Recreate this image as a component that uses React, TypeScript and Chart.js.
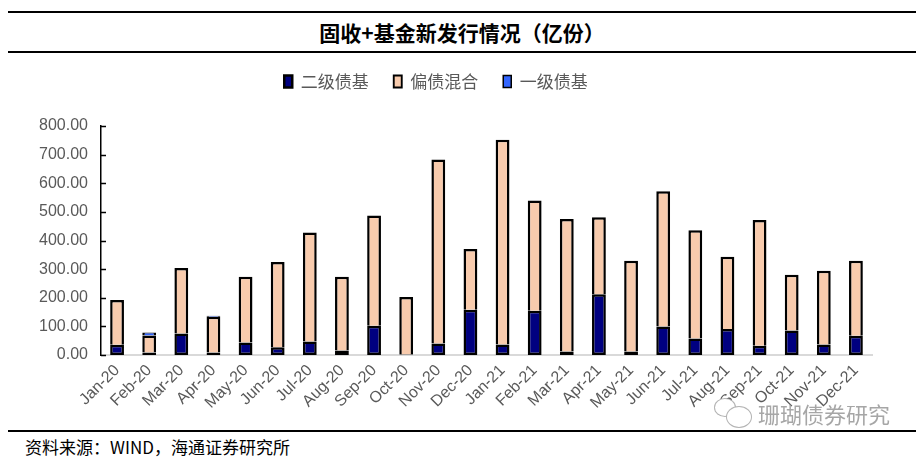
import React, { useEffect, useRef } from "react";
import { Chart, registerables } from "chart.js";

Chart.register(...registerables);

const months = [
  "Jan-20", "Feb-20", "Mar-20", "Apr-20", "May-20", "Jun-20",
  "Jul-20", "Aug-20", "Sep-20", "Oct-20", "Nov-20", "Dec-20",
  "Jan-21", "Feb-21", "Mar-21", "Apr-21", "May-21", "Jun-21",
  "Jul-21", "Aug-21", "Sep-21", "Oct-21", "Nov-21", "Dec-21",
];

// 二级债基
const erjiValues = [
  36, 9, 75, 9, 44, 27, 47, 16, 102, 2, 40, 158,
  37, 155, 12, 212, 12, 100, 58, 91, 32, 86, 37, 67,
];

// 偏债混合
const pianzhaiValues = [
  156, 59, 229, 125, 229, 298, 381, 257, 385, 201, 643, 212,
  715, 385, 463, 269, 317, 472, 378, 252, 440, 194, 257, 262,
];

// 一级债基
const yijiValues = [
  0, 11, 0, 3, 0, 0, 0, 0, 0, 0, 0, 0,
  0, 0, 0, 0, 0, 0, 0, 0, 0, 0, 0, 0,
];

const seriesNames = ["二级债基", "偏债混合", "一级债基"];
const yMin = 0;
const yMax = 800;
const yStep = 100;

const cjk = '"Noto Sans CJK SC", "Noto Sans", sans-serif';
const latin = '"Liberation Sans", Arial, sans-serif';

export default function App() {
  const canvasRef = useRef<HTMLCanvasElement | null>(null);

  useEffect(() => {
    document.body.style.margin = "0";
    const canvas = canvasRef.current;
    if (!canvas) return;

    const inwardTicks = {
      id: "inwardTicks",
      afterDatasetsDraw(chart: any) {
        const y = chart.scales.y;
        const ctx = chart.ctx;
        ctx.save();
        ctx.strokeStyle = "#000";
        ctx.lineWidth = 1.5;
        y.ticks.forEach((t: any) => {
          const py = Math.round(y.getPixelForValue(t.value)) + 0.5;
          ctx.beginPath();
          ctx.moveTo(y.right, py);
          ctx.lineTo(y.right + 5, py);
          ctx.stroke();
        });
        ctx.restore();
      },
    };

    const legendGap = {
      id: "legendGap",
      afterInit(chart: any) {
        const lg = chart.legend;
        if (!lg) return;
        const fit = lg.fit;
        lg.fit = function () {
          fit.call(this);
          this.height += 26;
        };
      },
    };

    const chart = new Chart(canvas, {
      type: "bar",
      data: {
        labels: months,
        datasets: [
          {
            label: seriesNames[0],
            data: erjiValues,
            backgroundColor: "#000080",
            borderColor: "#000000",
            borderWidth: { top: 2.5, left: 2.5, right: 2.5, bottom: 2.5 },
            borderSkipped: false,
            stack: "s",
          },
          {
            label: seriesNames[1],
            data: pianzhaiValues,
            backgroundColor: "#F8CBAD",
            borderColor: "#000000",
            borderWidth: { top: 2.5, left: 2.5, right: 2.5, bottom: 0 },
            borderSkipped: false,
            stack: "s",
          },
          {
            label: seriesNames[2],
            data: yijiValues.map((v) => (v === 0 ? null : v)),
            backgroundColor: "#3366FF",
            borderColor: "#000000",
            borderWidth: { top: 1, left: 2.5, right: 2.5, bottom: 0 },
            borderSkipped: false,
            stack: "s",
          },
        ] as any,
      },
      options: {
        animation: false,
        responsive: false,
        devicePixelRatio: 1,
        layout: { padding: { left: 0, right: 52, top: 0, bottom: 0 } },
        datasets: {
          bar: { barPercentage: 0.43, categoryPercentage: 1 },
        },
        plugins: {
          legend: {
            position: "top",
            labels: {
              boxWidth: 8,
              boxHeight: 12,
              padding: 25,
              color: "#595959",
              font: { family: cjk, size: 17 },
            },
          },
          tooltip: { enabled: false },
        },
        scales: {
          x: {
            stacked: true,
            grid: { display: false, drawTicks: false },
            border: { display: true, color: "#d9d9d9", width: 2 },
            ticks: {
              color: "#595959",
              font: { family: latin, size: 16 },
              minRotation: 45,
              maxRotation: 45,
              autoSkip: false,
              padding: 6,
            },
            afterFit(scale: any) {
              scale.height = 75;
            },
          },
          y: {
            stacked: true,
            min: yMin,
            max: yMax,
            grid: { display: false, drawTicks: false },
            border: { display: true, color: "#000000", width: 1.5 },
            ticks: {
              stepSize: yStep,
              color: "#595959",
              font: { family: latin, size: 16 },
              padding: 13,
              callback: (v: any) => Number(v).toFixed(2),
            },
            afterFit(scale: any) {
              scale.width = 101;
            },
          },
        },
      } as any,
      plugins: [inwardTicks, legendGap],
    });

    return () => chart.destroy();
  }, []);

  return (
    <div
      style={{
        position: "absolute",
        left: 0,
        top: 0,
        width: 924,
        height: 460,
        background: "#fff",
        overflow: "hidden",
      }}
    >
      <div style={{ position: "absolute", left: 8, top: 11, width: 908, height: 2, background: "#000" }} />
      <div
        style={{
          position: "absolute",
          left: 0,
          top: 16,
          width: 924,
          height: 32,
          lineHeight: "32px",
          textAlign: "center",
          fontFamily: cjk,
          fontWeight: 700,
          fontSize: 21,
          color: "#000",
        }}
      >
        固收+基金新发行情况（亿份）
      </div>
      <div style={{ position: "absolute", left: 8, top: 51, width: 908, height: 2, background: "#000" }} />
      <canvas
        ref={canvasRef}
        width={924}
        height={382}
        style={{ position: "absolute", left: 0, top: 48, width: 924, height: 382 }}
      />
      <div
        style={{
          position: "absolute",
          left: 712,
          top: 396,
          width: 200,
          height: 34,
          display: "flex",
          alignItems: "center",
          color: "rgba(150,150,150,0.85)",
          fontFamily: cjk,
          fontSize: 22,
        }}
      >
        <div style={{ position: "relative", width: 42, height: 34, marginRight: 4 }}>
          <div style={{ position: "absolute", left: 2, top: 2, width: 20, height: 17, borderRadius: "50%", border: "1.5px solid rgba(160,160,160,0.8)", background: "#fff" }} />
          <div style={{ position: "absolute", left: 14, top: 10, width: 24, height: 20, borderRadius: "50%", border: "1.5px solid rgba(160,160,160,0.8)", background: "#fff" }} />
        </div>
        <span>珊瑚债券研究</span>
      </div>
      <div style={{ position: "absolute", left: 8, top: 430, width: 908, height: 2, background: "#000" }} />
      <div
        style={{
          position: "absolute",
          left: 25,
          top: 435,
          height: 24,
          lineHeight: "24px",
          fontFamily: cjk,
          fontSize: 17,
          color: "#000",
          whiteSpace: "nowrap",
        }}
      >
        资料来源：WIND，海通证券研究所
      </div>
    </div>
  );
}
